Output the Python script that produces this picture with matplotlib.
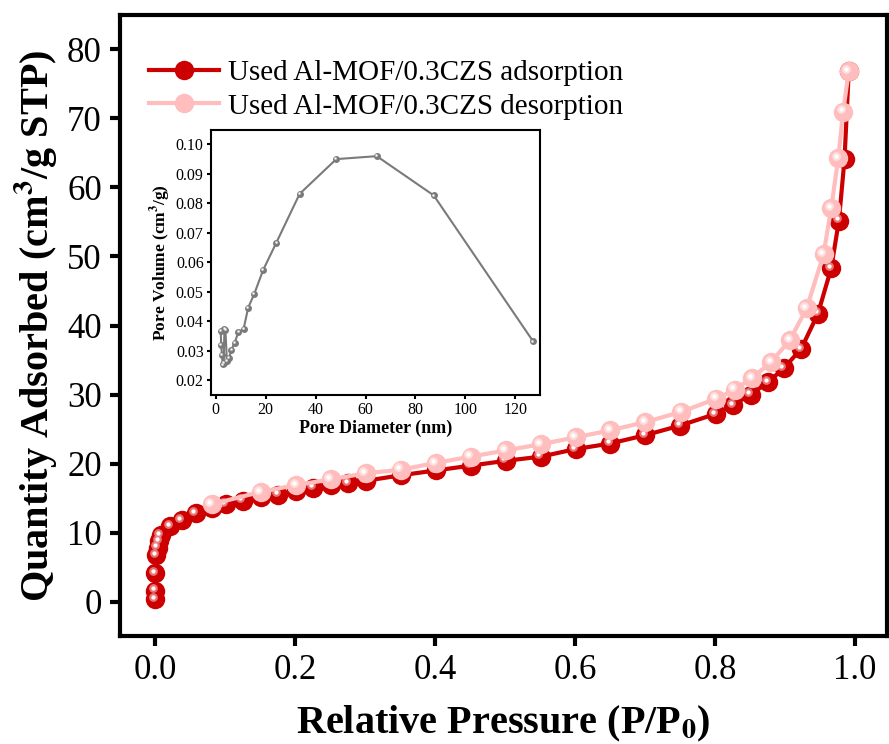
import numpy as np
import matplotlib
matplotlib.use("Agg")
import matplotlib.pyplot as plt
from matplotlib.transforms import ScaledTranslation

# isotherm data (P/P0, cm3/g STP)
p_ads = [0.000, 0.000, 0.000, 0.002, 0.004, 0.006, 0.008, 0.022, 0.038, 0.058,
         0.081, 0.101, 0.125, 0.151, 0.176, 0.202, 0.226, 0.251, 0.276, 0.301,
         0.351, 0.401, 0.451, 0.501, 0.551, 0.601, 0.650, 0.700, 0.750, 0.801,
         0.826, 0.851, 0.876, 0.898, 0.923, 0.947, 0.966, 0.977, 0.985, 0.991]
q_ads = [0.4, 1.6, 4.1, 6.7, 7.8, 8.8, 9.6, 10.9, 11.8, 12.8,
         13.6, 14.1, 14.6, 15.2, 15.5, 16.0, 16.5, 16.9, 17.2, 17.5,
         18.3, 19.0, 19.7, 20.4, 21.0, 22.1, 22.9, 24.1, 25.5, 27.2,
         28.5, 30.0, 31.8, 33.8, 36.6, 41.7, 48.3, 55.2, 64.1, 76.8]

p_des = [0.991, 0.983, 0.976, 0.966, 0.955, 0.931, 0.907, 0.880, 0.853, 0.828,
         0.802, 0.752, 0.700, 0.650, 0.601, 0.551, 0.501, 0.451, 0.401, 0.351,
         0.301, 0.251, 0.202, 0.151, 0.081]
q_des = [76.8, 71.0, 64.2, 57.0, 50.3, 42.5, 37.9, 34.7, 32.4, 30.7,
         29.4, 27.5, 26.0, 24.8, 23.8, 22.8, 21.9, 21.0, 20.1, 19.1,
         18.6, 17.7, 16.9, 15.9, 14.1]

# pore size distribution (inset)
pore_d = [2.0, 2.2, 2.5, 2.8, 3.2, 3.5, 3.9, 4.5, 5.3, 6.3, 7.6, 9.1, 11.2,
          13.0, 15.4, 19.0, 24.3, 33.6, 48.3, 64.5, 87.3, 127.1]
pore_v = [0.0368, 0.0320, 0.0286, 0.0254, 0.0260, 0.0373, 0.0370, 0.0265,
          0.0275, 0.0303, 0.0328, 0.0363, 0.0375, 0.0446, 0.0492, 0.0574,
          0.0667, 0.0832, 0.0950, 0.0960, 0.0827, 0.0332]

plt.rcParams['font.family'] = ['Liberation Serif', 'DejaVu Serif']
plt.rcParams['mathtext.fontset'] = 'stix'

fig = plt.figure(figsize=(8.89, 7.44), dpi=100)
ax = fig.add_axes([0.135, 0.145, 0.863, 0.835])

red = '#CC0000'
pink = '#FFBDBD'


def sphere(a, x, y, color, hl, ms, lw, z, label=None):
    line, = a.plot(x, y, '-o', color=color, ms=ms, lw=lw, mec='none',
                   zorder=z, label=label)
    off = a.transData + ScaledTranslation(-ms * 0.12 / 72, ms * 0.12 / 72,
                                          fig.dpi_scale_trans)
    a.plot(x, y, 'o', color=hl, ms=ms * 0.45, mec='none', alpha=0.85,
           transform=off, zorder=z + 0.1)
    a.plot(x, y, 'o', color='white', ms=ms * 0.22, mec='none',
           transform=off, zorder=z + 0.2)
    return line


sphere(ax, p_ads, q_ads, red, '#EE8888', 14, 3, 3,
       'Used Al-MOF/0.3CZS adsorption')
sphere(ax, p_des, q_des, pink, '#FFE4E4', 14, 3, 4,
       'Used Al-MOF/0.3CZS desorption')

ax.set_xlim(-0.05, 1.046)
ax.set_ylim(-5, 85)
ax.set_xticks(np.arange(0, 1.01, 0.2))
ax.set_yticks(np.arange(0, 81, 10))
ax.tick_params(direction='out', length=7, width=3, labelsize=25, pad=6)
for s in ax.spines.values():
    s.set_linewidth(3)
ax.set_xlabel('Relative Pressure (P/P$_\\mathbf{0}$)', fontsize=29,
              fontweight='bold', labelpad=12)
ax.set_ylabel('Quantity Adsorbed (cm$^\\mathbf{3}$/g STP)', fontsize=29,
              fontweight='bold', labelpad=6)
ax.legend(loc='upper left', bbox_to_anchor=(0.0, 0.975), frameon=False,
          fontsize=21, handlelength=2.4, handletextpad=0.3,
          labelspacing=0.25, borderaxespad=0.6)

# inset
ins = fig.add_axes([0.237, 0.469, 0.370, 0.356])
sphere(ins, pore_d, pore_v, '#7A7A7A', '#C8C8C8', 5, 1.5, 3)
ins.set_xlim(-2, 129.7)
ins.set_ylim(0.015, 0.1048)
ins.set_xticks(np.arange(0, 121, 20))
ins.set_yticks(np.arange(0.02, 0.101, 0.01))
ins.yaxis.set_major_formatter(plt.FormatStrFormatter('%.2f'))
ins.tick_params(direction='out', length=3, width=1.5, labelsize=11.5, pad=2)
for s in ins.spines.values():
    s.set_linewidth(1.5)
ins.set_xlabel('Pore Diameter (nm)', fontsize=13, fontweight='bold',
               labelpad=1)
ins.set_ylabel('Pore Volume (cm$^\\mathbf{3}$/g)', fontsize=12.5,
               fontweight='bold', labelpad=2)

fig.savefig('out.png', dpi=100)
